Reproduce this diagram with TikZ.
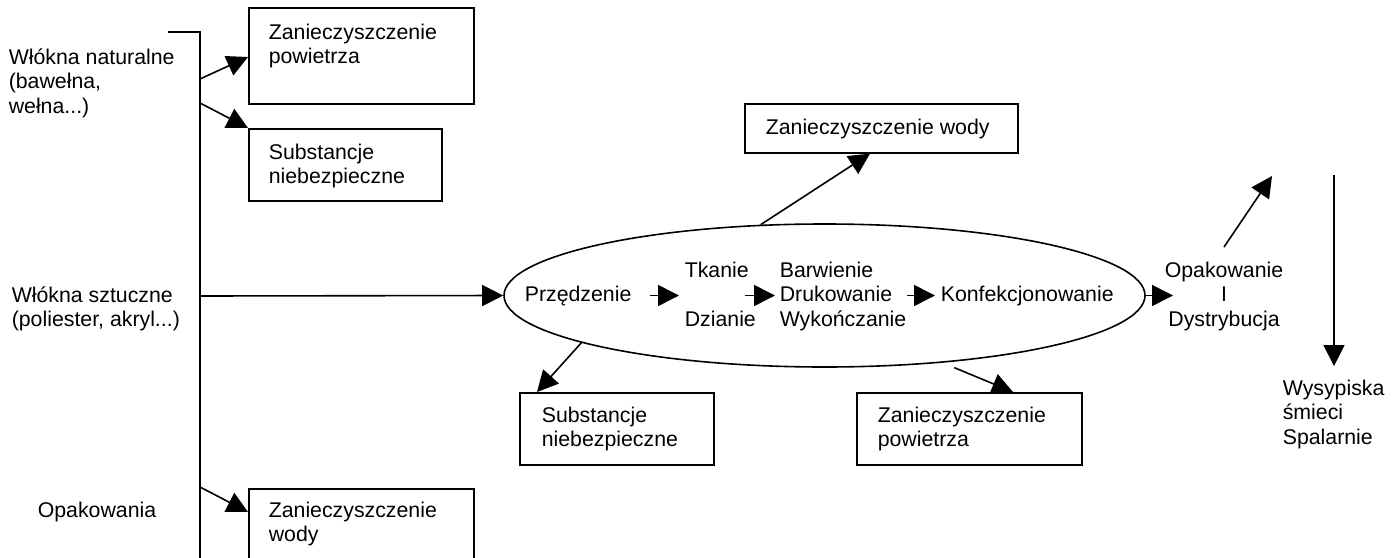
\documentclass[tikz,border=0pt]{standalone}
\usepackage{fontspec}
\setmainfont{Liberation Sans}
\usetikzlibrary{arrows.meta,calc,shapes.geometric}
% stacked lines of text whose base anchor is the first line's baseline
\newcommand{\lns}[2][l]{\begin{tabular}[t]{@{}#1@{}}#2\end{tabular}}

\begin{document}
\begin{tikzpicture}[x=1pt,y=-1pt,
  font=\fontsize{21.3}{24.5}\selectfont,
  line width=1.6pt,
  arr/.style={-{Triangle[length=21pt,width=21pt]}},
  box/.style={draw, inner sep=0pt, anchor=north west},
  txt/.style={inner sep=0pt, anchor=base west},
]
\useasboundingbox (0,0) rectangle (1400,557);

% inputs on the left
\node[txt] (nat) at (8,64) {\lns{Włókna naturalne\\(bawełna,\\wełna...)}};
\node[txt] (szt) at (11,302) {\lns{Włókna sztuczne\\(poliester, akryl...)}};
\node[txt] (opk) at (37,517) {Opakowania};

% collecting trunk
\coordinate (tHead) at (168,32);
\coordinate (tTop) at (200,32);
\coordinate (tBot) at (200,565);
\draw (tHead) -- (tTop) -- (tBot);
\coordinate (t1) at (200,79);
\coordinate (t2) at (200,103);
\coordinate (t3) at (200,296);
\coordinate (t4) at (200,487);

% impact boxes
\node[box, minimum width=225pt, minimum height=96pt] (b1) at (248,7) {};
\node[box, minimum width=193pt, minimum height=72pt] (b2) at (248,128) {};
\node[box, minimum width=225pt, minimum height=100pt] (b3) at (248,488) {};
\node[box, minimum width=273pt, minimum height=49pt] (bw) at (744,103) {};
\node[box, minimum width=194pt, minimum height=72pt] (bs) at (519,392) {};
\node[box, minimum width=225pt, minimum height=72pt] (bp) at (856,392) {};

\node[txt] (b1t) at (268,39) {\lns{Zanieczyszczenie\\powietrza}};
\node[txt] (b2t) at (268,159) {\lns{Substancje\\niebezpieczne}};
\node[txt] (b3t) at (268,517) {\lns{Zanieczyszczenie\\wody}};
\node[txt] (bwt) at (765,134) {Zanieczyszczenie wody};
\node[txt] (bst) at (541,422) {\lns{Substancje\\niebezpieczne}};
\node[txt] (bpt) at (877,422) {\lns{Zanieczyszczenie\\powietrza}};

% production stages
\node[draw, ellipse, inner sep=0pt, minimum width=641pt, minimum height=143pt] (proc) at (824.5,295.5) {};
\node[txt] (prz) at (524,301) {Przędzenie};
\node[txt] (tk) at (684,277) {\lns{Tkanie\\ \\Dzianie}};
\node[txt] (bdw) at (779,277) {\lns{Barwienie\\Drukowanie\\Wykończanie}};
\node[txt] (konf) at (940,301) {Konfekcjonowanie};

% after production
\node[inner sep=0pt, anchor=base] (dys) at (1224,277) {\lns[c]{Opakowanie\\I\\Dystrybucja}};
\node[txt] (wys) at (1282,395) {\lns{Wysypiska\\śmieci\\Spalarnie}};
\coordinate (upEnd) at (1272,176);
\coordinate (dnStart) at (1334,175);
\coordinate (wysTop) at ($(wys.north)+(0,-11)$);

% connectors from the trunk
\draw[arr] (t1) -- ($(b1.north west)+(0,50)$);
\draw[arr] (t2) -- (b2.north west);
\draw[arr] (t3) -- (proc.west);
\draw[arr] (t4) -- ($(b3.north west)+(0,24)$);

% connectors from the process
\draw[arr] (proc.132.5) -- ($(bw.south west)+(126,0)$);
\draw[arr] (proc.191.4) -- ($(bs.north west)+(18,0)$);
\draw[arr] ($(proc.-27.2)+(0,6)$) -- ($(bp.north west)+(157,0)$);

% chain inside the process
\draw[arr] ($(prz.east |- proc.center)+(18,0)$) -- ($(tk.west |- proc.center)+(-5,0)$);
\draw[arr] ($(tk.east |- proc.center)+(-12,0)$) -- ($(bdw.west |- proc.center)+(-4,0)$);
\draw[arr] (bdw.east |- proc.center) -- ($(konf.west |- proc.center)+(-5,0)$);
\draw[arr] (proc.east) -- ($(dys.west |- proc.center)+(9,0)$);

% distribution and disposal
\draw[arr] ($(dys.north)+(0,-12)$) -- (upEnd);
\draw[arr] (dnStart) -- (dnStart |- wysTop);
\end{tikzpicture}
\end{document}
